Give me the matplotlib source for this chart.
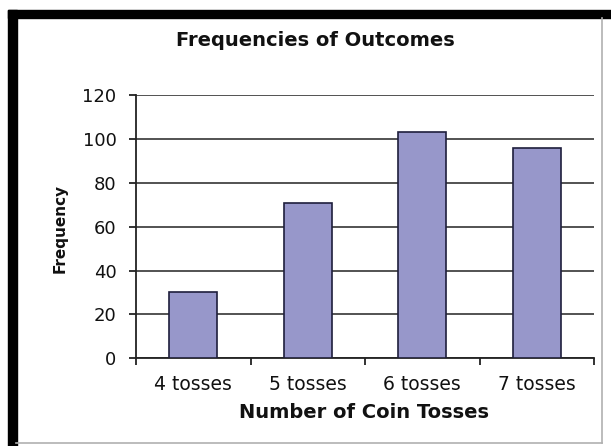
import matplotlib
matplotlib.use("Agg")
import matplotlib.pyplot as plt
from matplotlib.patches import Rectangle
from matplotlib.lines import Line2D
import numpy as np

categories = ["4 tosses", "5 tosses", "6 tosses", "7 tosses"]
frequencies = [30, 71, 103, 96]
y_ticks = [0, 20, 40, 60, 80, 100, 120]

W, H = 611, 446
fig = plt.figure(figsize=(W / 100, H / 100), dpi=100)
fig.patch.set_facecolor("white")

def fx(px):
    return px / W

def fy(py):
    return 1 - py / H

# outer frame
fig.patches.append(Rectangle((fx(8), 0), fx(8.5), fy(10),
                             transform=fig.transFigure, color="black", zorder=0))
fig.patches.append(Rectangle((fx(8), fy(18)), fx(611) - fx(8), fy(10) - fy(18),
                             transform=fig.transFigure, color="black", zorder=0))
fig.lines.append(Line2D([fx(602), fx(602)], [fy(18), fy(443)], transform=fig.transFigure,
                        color="#b0b0b0", lw=1.2))
fig.lines.append(Line2D([fx(16), fx(602)], [fy(443), fy(443)], transform=fig.transFigure,
                        color="#b0b0b0", lw=1.2))

ax = fig.add_axes([fx(136), fy(358.3), fx(594) - fx(136), fy(95) - fy(358.3)])
ax.set_facecolor("white")

x = np.arange(len(categories))
ax.bar(x, frequencies, width=0.42, color="#9797CA", edgecolor="#1e1e3c", linewidth=1.2, zorder=3)

ax.set_xlim(-0.5, len(categories) - 0.5)
ax.set_ylim(0, 120)
ax.set_yticks(y_ticks)
ax.set_yticklabels([str(v) for v in y_ticks], fontsize=13, color="#111111")
ax.yaxis.grid(True, color="#444444", linewidth=1.3, zorder=1)
ax.set_axisbelow(True)

ax.set_xticks(x)
ax.set_xticklabels(categories, fontsize=13.5, color="#111111")
ax.set_xticks(np.arange(len(categories) + 1) - 0.5, minor=True)
ax.tick_params(axis="x", which="major", length=0, pad=12)
ax.tick_params(axis="x", which="minor", length=5, width=1.3, direction="out", color="#222222")
ax.tick_params(axis="y", length=5, width=1.3, direction="out", color="#222222", pad=9)

for s in ["top", "right"]:
    ax.spines[s].set_visible(False)
for s in ["left", "bottom"]:
    ax.spines[s].set_color("#222222")
    ax.spines[s].set_linewidth(1.3)

fig.text(fx(315), fy(40), "Frequencies of Outcomes", ha="center", va="center",
         fontsize=14, fontweight="bold", color="#111111")
fig.text(fx(60), fy(228), "Frequency", ha="center", va="center", rotation=90,
         fontsize=11, fontweight="bold", color="#111111")
fig.text(fx(364), fy(412), "Number of Coin Tosses", ha="center", va="center",
         fontsize=14, fontweight="bold", color="#111111")

fig.savefig("out.png", dpi=100)
